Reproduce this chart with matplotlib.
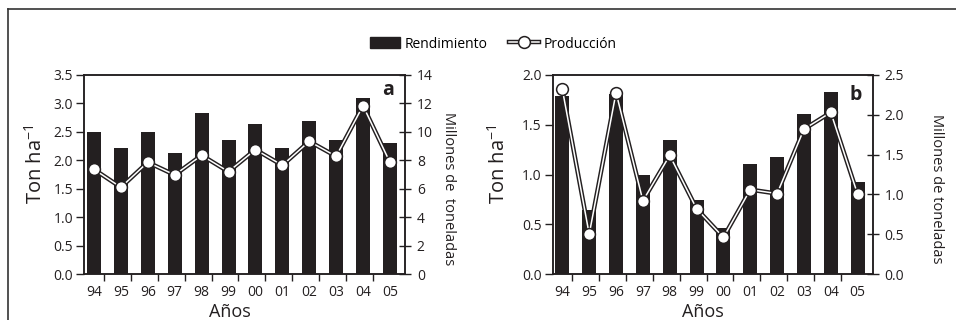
import matplotlib
matplotlib.use('Agg')
import matplotlib.pyplot as plt
from matplotlib.lines import Line2D
from matplotlib.patches import Patch
import numpy as np

plt.rcParams['font.family'] = ['Open Sans', 'DejaVu Sans']

years = ['94', '95', '96', '97', '98', '99', '00', '01', '02', '03', '04', '05']

# panel a
rend_a = [2.49, 2.22, 2.50, 2.13, 2.83, 2.36, 2.64, 2.22, 2.69, 2.36, 3.09, 2.30]
prod_a = [7.36, 6.10, 7.86, 6.97, 8.35, 7.20, 8.75, 7.65, 9.33, 8.28, 11.84, 7.86]

# panel b
rend_b = [1.79, 0.64, 1.81, 0.99, 1.35, 0.74, 0.46, 1.11, 1.18, 1.61, 1.83, 0.92]
prod_b = [2.32, 0.50, 2.28, 0.92, 1.49, 0.82, 0.46, 1.06, 1.01, 1.82, 2.03, 1.00]

ink = '#231f20'
x = np.arange(len(years))

fig = plt.figure(figsize=(9.56, 3.2), dpi=100)
fig.patch.set_facecolor('white')

# outer frame (left and top edges only visible)
fig.add_artist(Line2D([8/956, 8/956], [0, 1-9/320], transform=fig.transFigure, color='#333333', lw=1.2))
fig.add_artist(Line2D([8/956, 1], [1-9/320, 1-9/320], transform=fig.transFigure, color='#333333', lw=1.2))

bottom = 1 - 274/320
height = (274 - 75)/320
panels = [
    dict(left=84.3/956, width=320.7/956, rend=rend_a, prod=prod_a, ylim1=3.5, yt1=np.arange(0, 3.51, 0.5),
         ylim2=14, yt2=np.arange(0, 14.1, 2), fmt2='{:.0f}', letter='a', ly=0.925,
         ylab_x=-0.15, rlab_x=1.137, rlab_text='Millones de  toneladas', xlab_x=0.454),
    dict(left=552.7/956, width=320/956, rend=rend_b, prod=prod_b, ylim1=2.0, yt1=np.arange(0, 2.01, 0.5),
         ylim2=2.5, yt2=np.arange(0, 2.51, 0.5), fmt2='{:.1f}', letter='b', ly=0.90,
         ylab_x=-0.168, rlab_x=1.198, rlab_text='Millones de toneladas', xlab_x=0.469),
]

for p in panels:
    ax = fig.add_axes([p['left'], bottom, p['width'], height])
    ax.bar(x, p['rend'], width=0.52, color=ink, zorder=2)
    ax.set_xlim(-0.36, 11.56)
    ax.set_ylim(0, p['ylim1'])
    ax.set_yticks(p['yt1'])
    ax.set_yticklabels(['{:.1f}'.format(v) for v in p['yt1']])
    ax.set_xticks(x)
    ax.set_xticklabels(years)
    ax.set_xticks(x[:-1] + 0.37, minor=True)
    ax.tick_params(axis='x', which='major', length=0, pad=8, labelsize=10, colors=ink)
    ax.tick_params(axis='x', which='minor', direction='out', length=5, width=1, color=ink)
    ax.tick_params(axis='y', direction='out', length=6, width=1, pad=2, labelsize=10, colors=ink)
    for s in ax.spines.values():
        s.set_linewidth(1.1)
        s.set_color(ink)

    ax2 = ax.twinx()
    ax2.set_ylim(0, p['ylim2'])
    ax2.set_yticks(p['yt2'])
    ax2.set_yticklabels([p['fmt2'].format(v) for v in p['yt2']])
    ax2.tick_params(axis='y', direction='inout', length=9, width=1, pad=4, labelsize=10, colors=ink)
    for s in ax2.spines.values():
        s.set_linewidth(1.1)
        s.set_color(ink)

    # double line with open circles
    ax2.plot(x, p['prod'], color=ink, lw=3.2, zorder=3, solid_joinstyle='miter')
    ax2.plot(x, p['prod'], color='white', lw=1.1, zorder=4)
    ax2.plot(x, p['prod'], ls='none', marker='o', ms=8.5, mfc='white', mec=ink, mew=1.1, zorder=5)

    ax.text(p['ylab_x'], 0.55, 'Ton ha$^{\\mathregular{-1}}$', transform=ax.transAxes, rotation=90,
            ha='center', va='center', fontsize=14.5, color=ink)
    ax.text(p['rlab_x'], 0.43, p['rlab_text'], transform=ax.transAxes, rotation=270,
            ha='center', va='center', fontsize=10.5, color=ink)
    ax.text(p['xlab_x'], -0.19, 'Años', transform=ax.transAxes, ha='center', va='center',
            fontsize=13, color=ink)
    ax2.text(0.948, p['ly'], p['letter'], transform=ax.transAxes, ha='center', va='center',
             fontsize=14, fontweight='bold', color=ink)

h_bar = Patch(facecolor=ink, edgecolor=ink)
h_line = (Line2D([], [], color=ink, lw=3.2), Line2D([], [], color='white', lw=1.1),
          Line2D([], [], ls='none', marker='o', ms=8.5, mfc='white', mec=ink, mew=1.1))
fig.legend([h_bar, h_line], ['Rendimiento', 'Producción'], loc='center', bbox_to_anchor=(0.516, 0.8625),
           ncol=2, frameon=False, fontsize=10, handlelength=2.2, handleheight=0.9,
           handletextpad=0.35, columnspacing=1.5, borderpad=0, borderaxespad=0)

fig.savefig('out.png', dpi=100, facecolor='white')
